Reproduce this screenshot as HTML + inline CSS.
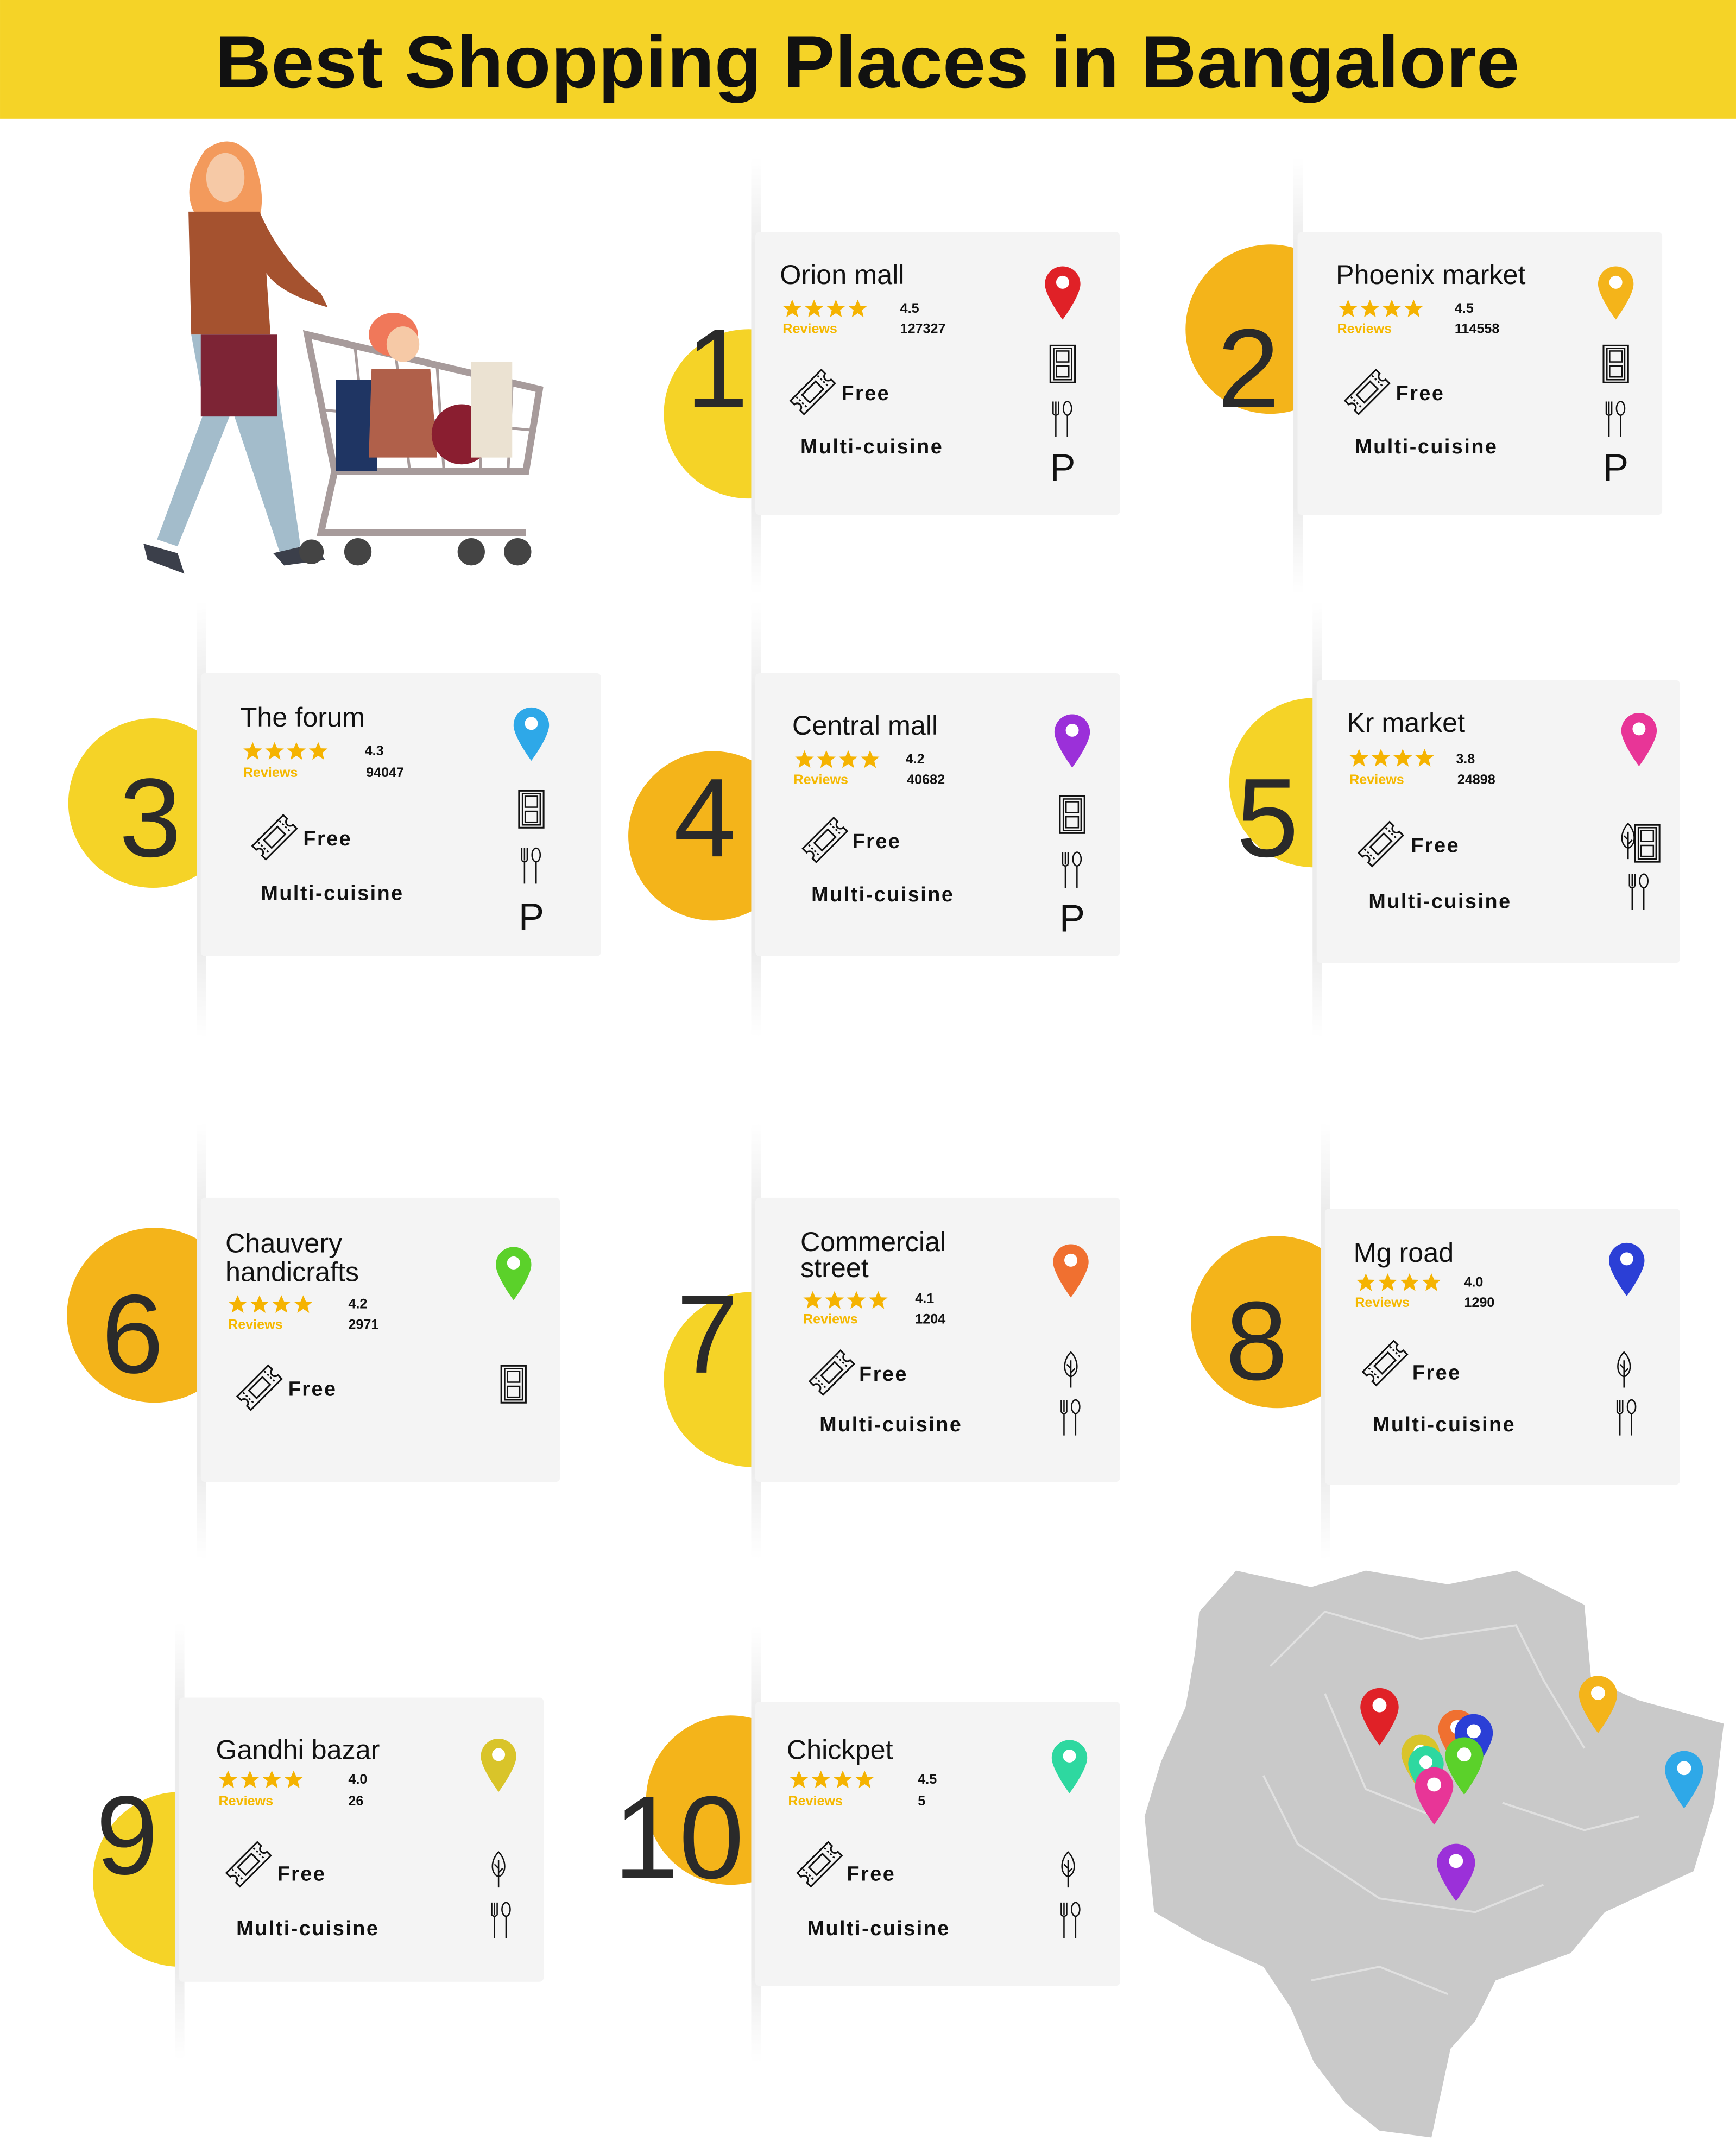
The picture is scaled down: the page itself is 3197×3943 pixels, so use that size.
<!DOCTYPE html>
<html><head><meta charset="utf-8"><style>html,body{margin:0;padding:0;background:#fff}svg{display:block}</style></head>
<body>
<svg width="3197" height="3943" viewBox="0 0 1271 1567.6" xmlns="http://www.w3.org/2000/svg" font-family="Liberation Sans, sans-serif">
<defs>
<symbol id="pin" viewBox="0 0 30 45" overflow="visible"><path d="M15 0C6.7 0 0 6.7 0 15C0 25 15 45 15 45S30 25 30 15C30 6.7 23.3 0 15 0Z" fill="currentColor"/><circle cx="15" cy="13.5" r="5.5" fill="#fff"/></symbol>
<symbol id="star" viewBox="-10 -10 20 20" overflow="visible"><path d="M0-9.5L2.8-3 9.8-2.8 4.4 1.6 6.2 9 0 4.8-6.2 9-4.4 1.6-9.8-2.8-2.8-3Z" fill="#f5b301"/></symbol>
<g id="door"><rect x="-9" y="0" width="18" height="27" fill="none" stroke="#111" stroke-width="1.2"/><rect x="-6.5" y="2" width="13" height="23" fill="none" stroke="#111" stroke-width="1"/><rect x="-4.5" y="4" width="9" height="8" fill="none" stroke="#111" stroke-width="1"/><rect x="-4.5" y="15" width="9" height="8" fill="none" stroke="#111" stroke-width="1"/></g>
<g id="fork" fill="none" stroke="#111" stroke-width="1"><path d="M-7 0V9M-5 0V9M-3 0V9M-7 9Q-5 11-3 9M-5 10V26"/><ellipse cx="3.5" cy="5" rx="3" ry="5"/><path d="M3.5 10V26"/></g>
<g id="tree" fill="none" stroke="#111" stroke-width="1"><path d="M0 0C-6 6-6 16 0 18C6 16 6 6 0 0ZM0 6V26M0 12L-3 9M0 15L3 12"/></g>
<g id="ticket" fill="none" stroke="#111" stroke-width="1.2"><g transform="rotate(-45)"><path d="M-16-7H16V-3A3 3 0 0 0 16 3V7H-16V3A3 3 0 0 0-16-3Z"/><rect x="-7" y="-4" width="14" height="8"/><path d="M-11-6V6M11-6V6" stroke-dasharray="1.5 1.5"/></g></g>
<g id="stars"><use href="#star" x="0" y="-1" width="14" height="14"/><use href="#star" x="16" y="-1" width="14" height="14"/><use href="#star" x="32" y="-1" width="14" height="14"/><use href="#star" x="48" y="-1" width="14" height="14"/></g>
<linearGradient id="sh" x1="0" x2="0" y1="0" y2="1"><stop offset="0" stop-color="#eee" stop-opacity="0"/><stop offset="0.2" stop-color="#ececec"/><stop offset="0.8" stop-color="#ececec"/><stop offset="1" stop-color="#eee" stop-opacity="0"/></linearGradient>
</defs>
<rect width="1271" height="1567.6" fill="#fff"/>
<rect width="1271" height="87" fill="#f5d327"/>
<text x="635" y="64" text-anchor="middle" font-size="54" font-weight="bold" fill="#111" textLength="955" lengthAdjust="spacingAndGlyphs">Best Shopping Places in Bangalore</text>

<g>
<path d="M150 110Q170 95 185 115Q195 140 190 160L145 160Q130 140 150 110Z" fill="#f39a5c"/>
<ellipse cx="165" cy="130" rx="14" ry="18" fill="#f6c9a6"/>
<path d="M138 155L190 155Q205 190 235 215L240 225Q205 215 195 200L198 245L140 245Z" fill="#a5522f"/>
<path d="M140 245L198 245L220 400L205 405L170 300L130 400L115 395L150 300Z" fill="#a3bccb"/>
<path d="M105 398L130 405L135 420L108 410Z M200 405L230 398L238 410L208 414Z" fill="#3b3f4a"/>
<rect x="147" y="245" width="56" height="60" fill="#7d2435"/>
<path d="M225 245L395 285L385 345L245 345Z" fill="none" stroke="#a79b9b" stroke-width="5"/>
<path d="M245 345L235 390L385 390" fill="none" stroke="#a79b9b" stroke-width="5"/>
<path d="M260 255L270 345M290 262L300 345M320 268L325 345M350 275L352 345M375 280L372 345M235 300L390 315" stroke="#a79b9b" stroke-width="2"/>
<rect x="246" y="278" width="30" height="67" fill="#1f3563"/>
<ellipse cx="288" cy="245" rx="18" ry="16" fill="#f0785a"/>
<ellipse cx="295" cy="252" rx="12" ry="13" fill="#f6c9a6"/>
<path d="M272 270L315 270L320 335L270 335Z" fill="#b0604a"/>
<ellipse cx="338" cy="318" rx="22" ry="22" fill="#8a1e30"/>
<rect x="345" y="265" width="30" height="70" fill="#ebe2d2"/>
<circle cx="228" cy="404" r="9" fill="#444"/><circle cx="262" cy="404" r="10" fill="#444"/><circle cx="345" cy="404" r="10" fill="#444"/><circle cx="379" cy="404" r="10" fill="#444"/>
</g>

<g>
<circle cx="548" cy="303" r="62" fill="#f5d327"/>
<circle cx="930" cy="241" r="62" fill="#f4b41a"/>
<circle cx="112" cy="588" r="62" fill="#f5d327"/>
<circle cx="522" cy="612" r="62" fill="#f4b41a"/>
<circle cx="962" cy="573" r="62" fill="#f5d327"/>
<circle cx="113" cy="963" r="64" fill="#f4b41a"/>
<circle cx="550" cy="1010" r="64" fill="#f5d327"/>
<circle cx="935" cy="968" r="63" fill="#f4b41a"/>
<circle cx="132" cy="1376" r="64" fill="#f5d327"/>
<circle cx="535" cy="1318" r="62" fill="#f4b41a"/>
</g>

<g fill="url(#sh)">
<rect x="550" y="115" width="7" height="320"/><rect x="947" y="115" width="7" height="320"/>
<rect x="144" y="440" width="7" height="320"/><rect x="550" y="440" width="7" height="320"/><rect x="961" y="440" width="7" height="320"/>
<rect x="144" y="822" width="7" height="320"/><rect x="550" y="822" width="7" height="320"/><rect x="967" y="822" width="7" height="320"/>
<rect x="128" y="1188" width="7" height="320"/><rect x="550" y="1190" width="7" height="320"/>
</g>

<g fill="#f4f4f4">
<rect x="553" y="170" width="267" height="207" rx="3"/>
<rect x="950" y="170" width="267" height="207" rx="3"/>
<rect x="147" y="493" width="293" height="207" rx="3"/>
<rect x="553" y="493" width="267" height="207" rx="3"/>
<rect x="964" y="498" width="266" height="207" rx="3"/>
<rect x="147" y="877" width="263" height="208" rx="3"/>
<rect x="553" y="877" width="267" height="208" rx="3"/>
<rect x="970" y="885" width="260" height="202" rx="3"/>
<rect x="131" y="1243" width="267" height="208" rx="3"/>
<rect x="553" y="1246" width="267" height="208" rx="3"/>
</g>

<g font-size="82" fill="#2a2a2a" text-anchor="middle">
<text x="525" y="298">1</text><text x="914" y="298">2</text><text x="110" y="627">3</text><text x="516" y="627">4</text><text x="928" y="627">5</text>
<text x="97" y="1005">6</text><text x="518" y="1005">7</text><text x="920" y="1010">8</text><text x="93" y="1372">9</text><text x="497" y="1375" font-size="86">10</text>
</g>

<g fill="#111">
<g transform="translate(553,170)">
<text x="18" y="38" font-size="20">Orion mall</text>
<use href="#stars" x="20" y="50"/><text x="106" y="59" font-size="10" font-weight="bold">4.5</text>
<text x="20" y="74" font-size="10" font-weight="bold" fill="#f5b800">Reviews</text><text x="106" y="74" font-size="10" font-weight="bold">127327</text>
<use href="#ticket" x="42" y="117"/><text x="63" y="123" font-size="15" font-weight="bold" letter-spacing="1">Free</text>
<text x="33" y="162" font-size="15" font-weight="bold" letter-spacing="1">Multi-cuisine</text>
<use href="#pin" x="212" y="25" width="26" height="39" color="#e02127"/><use href="#door" x="225" y="83"/><use href="#fork" x="225" y="124"/><text x="225" y="182" font-size="28" text-anchor="middle">P</text>
</g>
<g transform="translate(950,170)">
<text x="28" y="38" font-size="20">Phoenix market</text>
<use href="#stars" x="30" y="50"/><text x="115" y="59" font-size="10" font-weight="bold">4.5</text>
<text x="29" y="74" font-size="10" font-weight="bold" fill="#f5b800">Reviews</text><text x="115" y="74" font-size="10" font-weight="bold">114558</text>
<use href="#ticket" x="51" y="117"/><text x="72" y="123" font-size="15" font-weight="bold" letter-spacing="1">Free</text>
<text x="42" y="162" font-size="15" font-weight="bold" letter-spacing="1">Multi-cuisine</text>
<use href="#pin" x="220" y="25" width="26" height="39" color="#f4b41a"/><use href="#door" x="233" y="83"/><use href="#fork" x="233" y="124"/><text x="233" y="182" font-size="28" text-anchor="middle">P</text>
</g>
<g transform="translate(147,493)">
<text x="29" y="39" font-size="20">The forum</text>
<use href="#stars" x="31" y="51"/><text x="120" y="60" font-size="10" font-weight="bold">4.3</text>
<text x="31" y="76" font-size="10" font-weight="bold" fill="#f5b800">Reviews</text><text x="121" y="76" font-size="10" font-weight="bold">94047</text>
<use href="#ticket" x="54" y="120"/><text x="75" y="126" font-size="15" font-weight="bold" letter-spacing="1">Free</text>
<text x="44" y="166" font-size="15" font-weight="bold" letter-spacing="1">Multi-cuisine</text>
<use href="#pin" x="229" y="25" width="26" height="39" color="#2ea8e8"/><use href="#door" x="242" y="86"/><use href="#fork" x="242" y="128"/><text x="242" y="188" font-size="28" text-anchor="middle">P</text>
</g>
<g transform="translate(553,493)">
<text x="27" y="45" font-size="20">Central mall</text>
<use href="#stars" x="29" y="57"/><text x="110" y="66" font-size="10" font-weight="bold">4.2</text>
<text x="28" y="81" font-size="10" font-weight="bold" fill="#f5b800">Reviews</text><text x="111" y="81" font-size="10" font-weight="bold">40682</text>
<use href="#ticket" x="51" y="122"/><text x="71" y="128" font-size="15" font-weight="bold" letter-spacing="1">Free</text>
<text x="41" y="167" font-size="15" font-weight="bold" letter-spacing="1">Multi-cuisine</text>
<use href="#pin" x="219" y="30" width="26" height="39" color="#9b30d9"/><use href="#door" x="232" y="90"/><use href="#fork" x="232" y="131"/><text x="232" y="189" font-size="28" text-anchor="middle">P</text>
</g>
<g transform="translate(964,498)">
<text x="22" y="38" font-size="20">Kr market</text>
<use href="#stars" x="24" y="51"/><text x="102" y="61" font-size="10" font-weight="bold">3.8</text>
<text x="24" y="76" font-size="10" font-weight="bold" fill="#f5b800">Reviews</text><text x="103" y="76" font-size="10" font-weight="bold">24898</text>
<use href="#ticket" x="47" y="120"/><text x="69" y="126" font-size="15" font-weight="bold" letter-spacing="1">Free</text>
<text x="38" y="167" font-size="15" font-weight="bold" letter-spacing="1">Multi-cuisine</text>
<use href="#pin" x="223" y="24" width="26" height="39" color="#e83597"/><use href="#tree" x="228" y="105"/><use href="#door" x="242" y="106"/><use href="#fork" x="236" y="142"/>
</g>
<g transform="translate(147,877)">
<text x="18" y="40" font-size="20">Chauvery</text><text x="18" y="61" font-size="20">handicrafts</text>
<use href="#stars" x="20" y="72"/><text x="108" y="81" font-size="10" font-weight="bold">4.2</text>
<text x="20" y="96" font-size="10" font-weight="bold" fill="#f5b800">Reviews</text><text x="108" y="96" font-size="10" font-weight="bold">2971</text>
<use href="#ticket" x="43" y="139"/><text x="64" y="145" font-size="15" font-weight="bold" letter-spacing="1">Free</text>
<use href="#pin" x="216" y="36" width="26" height="39" color="#5bd12a"/><use href="#door" x="229" y="123"/>
</g>
<g transform="translate(553,877)">
<text x="33" y="39" font-size="20">Commercial</text><text x="33" y="58" font-size="20">street</text>
<use href="#stars" x="35" y="69"/><text x="117" y="77" font-size="10" font-weight="bold">4.1</text>
<text x="35" y="92" font-size="10" font-weight="bold" fill="#f5b800">Reviews</text><text x="117" y="92" font-size="10" font-weight="bold">1204</text>
<use href="#ticket" x="56" y="128"/><text x="76" y="134" font-size="15" font-weight="bold" letter-spacing="1">Free</text>
<text x="47" y="171" font-size="15" font-weight="bold" letter-spacing="1">Multi-cuisine</text>
<use href="#pin" x="218" y="34" width="26" height="39" color="#f07030"/><use href="#tree" x="231" y="113"/><use href="#fork" x="231" y="148"/>
</g>
<g transform="translate(970,885)">
<text x="21" y="39" font-size="20">Mg road</text>
<use href="#stars" x="23" y="48"/><text x="102" y="57" font-size="10" font-weight="bold">4.0</text>
<text x="22" y="72" font-size="10" font-weight="bold" fill="#f5b800">Reviews</text><text x="102" y="72" font-size="10" font-weight="bold">1290</text>
<use href="#ticket" x="44" y="113"/><text x="64" y="125" font-size="15" font-weight="bold" letter-spacing="1">Free</text>
<text x="35" y="163" font-size="15" font-weight="bold" letter-spacing="1">Multi-cuisine</text>
<use href="#pin" x="208" y="25" width="26" height="39" color="#2b3fd6"/><use href="#tree" x="219" y="105"/><use href="#fork" x="221" y="140"/>
</g>
<g transform="translate(131,1243)">
<text x="27" y="45" font-size="20">Gandhi bazar</text>
<use href="#stars" x="29" y="54"/><text x="124" y="63" font-size="10" font-weight="bold">4.0</text>
<text x="29" y="79" font-size="10" font-weight="bold" fill="#f5b800">Reviews</text><text x="124" y="79" font-size="10" font-weight="bold">26</text>
<use href="#ticket" x="51" y="122"/><text x="72" y="134" font-size="15" font-weight="bold" letter-spacing="1">Free</text>
<text x="42" y="174" font-size="15" font-weight="bold" letter-spacing="1">Multi-cuisine</text>
<use href="#pin" x="221" y="30" width="26" height="39" color="#d9c42a"/><use href="#tree" x="234" y="113"/><use href="#fork" x="236" y="150"/>
</g>
<g transform="translate(553,1246)">
<text x="23" y="42" font-size="20">Chickpet</text>
<use href="#stars" x="25" y="51"/><text x="119" y="60" font-size="10" font-weight="bold">4.5</text>
<text x="24" y="76" font-size="10" font-weight="bold" fill="#f5b800">Reviews</text><text x="119" y="76" font-size="10" font-weight="bold">5</text>
<use href="#ticket" x="47" y="119"/><text x="67" y="131" font-size="15" font-weight="bold" letter-spacing="1">Free</text>
<text x="38" y="171" font-size="15" font-weight="bold" letter-spacing="1">Multi-cuisine</text>
<use href="#pin" x="217" y="28" width="26" height="39" color="#2ed8a0"/><use href="#tree" x="229" y="110"/><use href="#fork" x="231" y="147"/>
</g>
</g>

<path d="M878 1180L905 1150L960 1162L1000 1150L1060 1160L1110 1150L1160 1175L1165 1230L1200 1245L1262 1262L1255 1320L1240 1370L1175 1400L1150 1430L1095 1450L1080 1480L1062 1500L1048 1565L1010 1560L985 1540L962 1510L945 1470L925 1440L880 1420L845 1400L838 1330L850 1290L868 1250L875 1210Z" fill="#c9c9c9"/>
<path d="M930 1220L970 1180L1040 1200L1110 1190L1130 1230L1160 1280M925 1300L950 1350L1010 1390L1080 1400L1130 1380M970 1240L1000 1310L1050 1330M1100 1320L1160 1340L1200 1330M960 1450L1010 1440L1060 1460" fill="none" stroke="#e0e0e0" stroke-width="1.5"/>
<g>
<use href="#pin" x="996" y="1236" width="28" height="42" color="#e02127"/>
<use href="#pin" x="1053" y="1252" width="28" height="42" color="#f07030"/>
<use href="#pin" x="1065" y="1255" width="28" height="42" color="#2b3fd6"/>
<use href="#pin" x="1026" y="1270" width="28" height="42" color="#d9c42a"/>
<use href="#pin" x="1031" y="1278" width="26" height="40" color="#2ed8a0"/>
<use href="#pin" x="1058" y="1272" width="28" height="42" color="#5bd12a"/>
<use href="#pin" x="1036" y="1294" width="28" height="42" color="#e83597"/>
<use href="#pin" x="1052" y="1350" width="28" height="42" color="#9b30d9"/>
<use href="#pin" x="1156" y="1227" width="28" height="42" color="#f4b41a"/>
<use href="#pin" x="1219" y="1282" width="28" height="42" color="#2ea8e8"/>
</g>
</svg>
</body></html>
